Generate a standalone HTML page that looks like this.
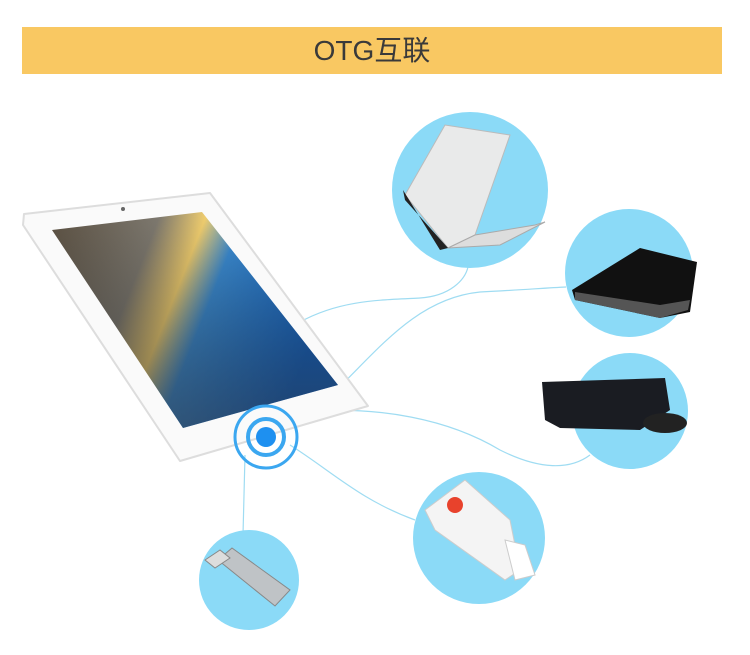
<!DOCTYPE html>
<html><head><meta charset="utf-8"><style>
html,body{margin:0;padding:0;background:#fff;width:750px;height:655px;overflow:hidden}
.hdr{position:absolute;left:22px;top:27px;width:700px;height:47px;background:#f9c862;text-align:center;line-height:47px;font-family:"Liberation Sans","Noto Sans CJK SC",sans-serif;font-size:28px;color:#3a3a3a}
</style></head><body>
<div class="hdr">OTG互联</div>
<svg width="750" height="655" style="position:absolute;left:0;top:0" xmlns="http://www.w3.org/2000/svg">
<defs>
<linearGradient id="sky" x1="0" y1="0" x2="1" y2="0.3">
<stop offset="0" stop-color="#5e5344"/><stop offset="0.35" stop-color="#7f7a70"/><stop offset="0.5" stop-color="#f3d070"/><stop offset="0.62" stop-color="#3c8fd8"/><stop offset="1" stop-color="#1566c8"/></linearGradient>
<linearGradient id="rock" x1="0" y1="0" x2="0" y2="1"><stop offset="0" stop-color="#000" stop-opacity="0"/><stop offset="1" stop-color="#2b3038" stop-opacity="0.6"/></linearGradient>
</defs>
<g fill="none" stroke="#9fdcf2" stroke-width="1.2">
<path d="M300,322 C340,300 380,300 420,298 C450,296 465,280 468,267"/>
<path d="M300,420 C360,380 400,300 480,292 C520,290 545,288 566,287"/>
<path d="M300,412 C380,405 450,420 500,450 C540,470 570,470 590,455"/>
<path d="M290,445 C330,470 360,500 415,520"/>
<path d="M245,455 L243,535"/>
</g>
<circle cx="470" cy="190" r="78" fill="#8bdaf7"/>
<circle cx="629" cy="273" r="64" fill="#8bdaf7"/>
<circle cx="630" cy="411" r="58" fill="#8bdaf7"/>
<circle cx="479" cy="538" r="66" fill="#8bdaf7"/>
<circle cx="249" cy="580" r="50" fill="#8bdaf7"/>
<!-- laptop -->
<polygon points="405,195 445,125 510,135 475,235 448,248" fill="#e9eaea" stroke="#bbb"/>
<polygon points="448,248 475,235 535,225 545,222 500,245" fill="#ddd" stroke="#aaa"/>
<polygon points="403,190 405,200 448,248 440,250" fill="#222"/>
<!-- HDD -->
<polygon points="572,290 640,248 697,262 690,312 660,318 575,300" fill="#111"/>
<polygon points="575,292 660,305 690,300 688,310 660,318 575,300" fill="#555"/>
<!-- keyboard -->
<polygon points="542,382 665,378 670,410 640,430 560,428 545,420" fill="#1a1c22"/>
<ellipse cx="665" cy="423" rx="22" ry="10" fill="#222"/>
<!-- usb modem -->
<polygon points="425,510 465,480 510,520 520,570 505,580 435,530" fill="#f4f4f4" stroke="#ccc"/>
<polygon points="505,540 525,545 535,575 515,580" fill="#fff" stroke="#ccc"/>
<circle cx="455" cy="505" r="8" fill="#e8422c"/>
<!-- flash drive -->
<polygon points="218,560 232,548 290,590 275,606" fill="#bfc3c6" stroke="#888"/>
<polygon points="205,560 220,550 230,558 215,568" fill="#ddd" stroke="#888"/>
<!-- tablet -->
<polygon points="24,214 210,193 368,406 180,461 23,225" fill="#fafafa" stroke="#ddd" stroke-width="2" stroke-linejoin="round"/>
<polygon points="52,230 202,212 338,385 183,428" fill="url(#sky)"/>
<polygon points="52,230 202,212 338,385 183,428" fill="url(#rock)"/>
<circle cx="123" cy="209" r="2" fill="#666"/>
<circle cx="266" cy="437" r="31" fill="none" stroke="#3ba7f0" stroke-width="3"/>
<circle cx="266" cy="437" r="18" fill="none" stroke="#3ba7f0" stroke-width="4"/>
<circle cx="266" cy="437" r="10" fill="#1e90f0"/>
</svg>
</body></html>
